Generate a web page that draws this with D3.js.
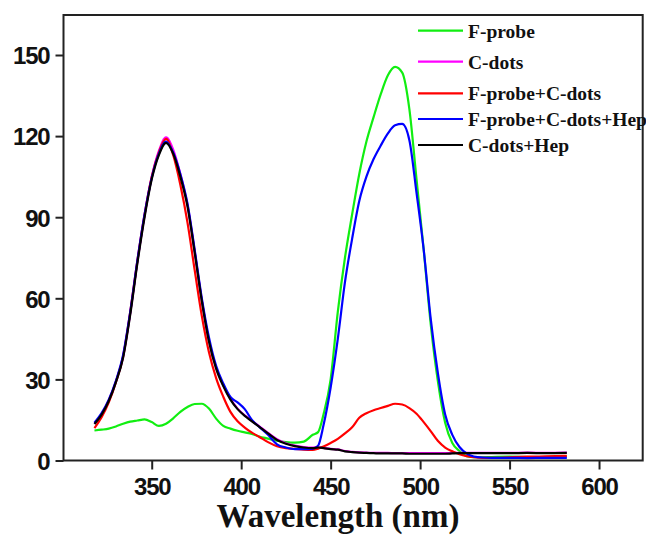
<!DOCTYPE html>
<html>
<head>
<meta charset="utf-8">
<script src="https://cdn.jsdelivr.net/npm/d3@7"></script>
<style>
  body { margin: 0; background: #fff; }
  svg { display: block; }
  .axis text { font-family: "Liberation Sans", Arial, sans-serif; font-weight: bold; font-size: 24px; letter-spacing: -1.2px; fill: #111; }
  .axis line { stroke: #222; stroke-width: 2; }
  .legend text { font-family: "Liberation Serif", "Times New Roman", serif; font-weight: bold; font-size: 19.5px; fill: #111; }
  .xtitle { font-family: "Liberation Serif", "Times New Roman", serif; font-weight: bold; font-size: 33px; fill: #111; }
</style>
</head>
<body>
<svg width="646" height="535"></svg>
<script>
// wavelength grid (nm) shared by all spectra
var wavelengths = [318, 322, 326, 330, 334, 338, 342, 346, 350, 354, 358, 362, 366, 370, 374, 378, 382, 386, 390, 394,
  398, 402, 406, 410, 415, 420, 425, 430, 435, 440, 443, 446, 450, 454, 458, 462, 466, 470, 474, 478,
  482, 486, 490, 494, 498, 502, 506, 510, 514, 518, 522, 526, 530, 535, 540, 550, 560, 570, 582];

// fluorescence intensity
var fProbe = [11.1, 11.4, 11.8, 12.6, 13.6, 14.4, 14.8, 15.2, 14.2, 12.8, 13.6, 15.6, 18, 19.8, 20.9, 21, 19.2, 15.5, 12.8, 11.8,
  11, 10.4, 9.8, 8.9, 8.1, 7.3, 6.8, 6.6, 7, 9.5, 10.5, 17, 30, 55, 75, 91, 106, 118, 127, 135.5,
  142.5, 145.6, 143.5, 130, 104, 78, 50, 29, 14, 6.5, 3.5, 1.6, 1.2, 1.2, 1.3, 1.4, 1.3, 1.3, 1.4];

var cDots = [13.6, 17.2, 22.3, 29.3, 38.4, 54.5, 73.6, 90.6, 104.8, 114.5, 119.5, 115, 106, 94.6, 77.5, 59.4, 44.4, 34.3, 27.8, 22.8,
  19.2, 16.7, 14.7, 12.7, 10.2, 7.9, 6.4, 5.5, 5, 4.8, 4.9, 4.7, 4.3, 4.1, 3.5, 3.2, 3, 2.9, 2.8, 2.8,
  2.8, 2.7, 2.7, 2.7, 2.7, 2.7, 2.7, 2.7, 2.7, 2.8, 2.8, 2.8, 2.8, 2.8, 2.8, 2.8, 2.9, 2.8, 2.9];

var fProbeCDots = [12, 16, 21.5, 29, 38.5, 55, 74, 91, 105, 114, 119, 113, 102, 88, 70.5, 53.5, 40, 30.5, 23.6, 18,
  14.5, 12.2, 10.3, 8.8, 6.8, 5.3, 4.6, 4.3, 4, 3.9, 4.4, 5.2, 6.5, 8, 10, 12.3, 15.8, 17.5, 18.6, 19.4,
  20.2, 21, 20.7, 19.4, 17.3, 14.2, 10.8, 7.2, 4.8, 3.4, 2.3, 1.6, 1.2, 1.0, 1.0, 1.2, 1.4, 1.5, 1.7];

var fProbeCDotsHep = [14, 17.5, 22.5, 29.5, 39, 55, 74, 91, 104.5, 113.5, 118, 114, 106, 95, 78, 60, 45.5, 35, 28.5, 23.5,
  21.5, 19, 15, 12.5, 9.5, 6, 4.8, 4.2, 4.2, 4.4, 5.5, 13, 27, 45, 66, 82, 96, 105, 111.5, 116.5,
  121, 124, 124.5, 118.5, 99, 78, 52, 32, 17, 9.5, 5, 2.6, 1.5, 1.1, 1.0, 1.0, 0.9, 1.0, 1.0];

var cDotsHep = [13.5, 17, 22, 29, 38, 54, 73, 90, 104, 113, 117.5, 113.5, 105, 94, 77, 59, 44, 34, 27.5, 22.5,
  19, 16.5, 14.5, 12.5, 10, 7.6, 6.2, 5.3, 4.8, 4.6, 4.8, 4.6, 4.2, 4, 3.4, 3.1, 2.9, 2.8, 2.7, 2.6,
  2.6, 2.6, 2.6, 2.5, 2.5, 2.5, 2.5, 2.5, 2.5, 2.6, 2.7, 2.7, 2.7, 2.7, 2.7, 2.7, 2.8, 2.7, 2.8];

var seriesNames = ["F-probe", "C-dots", "F-probe+C-dots", "F-probe+C-dots+Hep", "C-dots+Hep"];
var seriesColors = ["#11ee11", "#ff00ff", "#ff0000", "#0000ff", "#000000"];
var seriesValues = [fProbe, cDots, fProbeCDots, fProbeCDotsHep, cDotsHep];

var xTicks = [350, 400, 450, 500, 550, 600];
var yTicks = [0, 30, 60, 90, 120, 150];

// layout
var plotLeft = 63.5, plotRight = 642.7, plotTop = 15, plotBottom = 460.5;
var legendRowY = [30.7, 61.7, 93.3, 119, 145];

var svg = d3.select("svg");

var xscale = d3.scaleLinear().domain([300.7, 624.4]).range([plotLeft, plotRight]);
var yscale = d3.scaleLinear().domain([0, 164.8]).range([plotBottom, plotTop]);

// axes (domain path removed, box drawn separately)
var xaxis = d3.axisBottom(xscale).tickValues(xTicks).tickSize(9).tickPadding(8).tickFormat(d3.format("d"));
var yaxis = d3.axisLeft(yscale).tickValues(yTicks).tickSize(8).tickPadding(6).tickFormat(d3.format("d"));

svg.append("g")
  .attr("class", "axis")
  .attr("transform", "translate(0," + plotBottom + ")")
  .call(xaxis)
  .call(function(g) { g.select(".domain").remove(); });

svg.append("g")
  .attr("class", "axis")
  .attr("transform", "translate(" + plotLeft + ",0)")
  .call(yaxis)
  .call(function(g) { g.select(".domain").remove(); })
  .selectAll("text").attr("dy", "0.37em");

// spectra
var line = d3.line()
  .x(function(d) { return xscale(d[0]); })
  .y(function(d) { return yscale(d[1]); })
  .curve(d3.curveMonotoneX);

seriesValues.forEach(function(vals, i) {
  var pts = wavelengths.map(function(w, j) { return [w, vals[j]]; });
  svg.append("path")
    .datum(pts)
    .attr("fill", "none")
    .attr("stroke", seriesColors[i])
    .attr("stroke-width", 2.2)
    .attr("stroke-linejoin", "round")
    .attr("d", line);
});

// frame
svg.append("rect")
  .attr("x", plotLeft)
  .attr("y", plotTop)
  .attr("width", plotRight - plotLeft)
  .attr("height", plotBottom - plotTop)
  .attr("fill", "none")
  .attr("stroke", "#222")
  .attr("stroke-width", 2);

// legend
var legend = svg.append("g").attr("class", "legend");
seriesNames.forEach(function(name, i) {
  legend.append("line")
    .attr("x1", 418).attr("x2", 463)
    .attr("y1", legendRowY[i]).attr("y2", legendRowY[i])
    .attr("stroke", seriesColors[i])
    .attr("stroke-width", 2.2);
  legend.append("text")
    .attr("x", 468)
    .attr("y", legendRowY[i] + 7)
    .text(name);
});

// axis title
svg.append("text")
  .attr("class", "xtitle")
  .attr("x", 338)
  .attr("y", 527)
  .attr("text-anchor", "middle")
  .text("Wavelength (nm)");
</script>
</body>
</html>
